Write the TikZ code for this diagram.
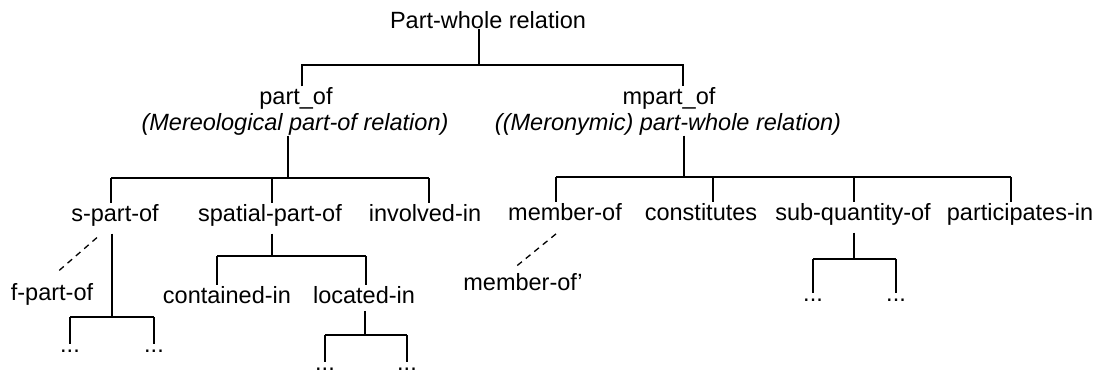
\documentclass[tikz,border=0pt]{standalone}
\usepackage{fontspec}
\setmainfont{Liberation Sans}
\usetikzlibrary{calc}

\begin{document}
\begin{tikzpicture}[x=0.5pt,y=-0.5pt,line width=0.65pt]
    \tikzstyle{rel}=[inner sep=0pt,anchor=base,font=\fontsize{11.75pt}{14pt}\selectfont]
    \tikzstyle{desc}=[rel,font=\fontsize{11.75pt}{14pt}\selectfont\itshape]
    \tikzstyle{stem}=[shorten <=3.5pt]
    \tikzstyle{leg}=[shorten >=2.3pt]
    \tikzstyle{alt}=[dash pattern=on 3pt off 2.5pt]

    \useasboundingbox (0,0) rectangle (1097,372);

    % relation names
    \node[rel] (pw) at (488,28) {Part-whole relation};
    \node[rel] (partof) at (296,104) {part\_of};
    \node[desc] (partofd) at (295,130) {(Mereological part-of relation)};
    \node[rel] (mpartof) at (669,104) {mpart\_of};
    \node[desc] (mpartofd) at (668,130) {((Meronymic) part-whole relation)};

    \node[rel] (spart) at (115,221) {s-part-of};
    \node[rel] (spatial) at (270,221) {spatial-part-of};
    \node[rel] (involved) at (425,221) {involved-in};
    \node[rel] (memberof) at (565,220) {member-of};
    \node[rel] (constit) at (701,220) {constitutes};
    \node[rel] (subq) at (853,220) {sub-quantity-of};
    \node[rel] (particip) at (1020,220) {participates-in};

    \node[rel] (fpart) at (52,300) {f-part-of};
    \node[rel] (contained) at (227,303) {contained-in};
    \node[rel] (located) at (364,303) {located-in};
    \node[rel] (memberofp) at (523,290) {member-of'};

    \node[rel] (sdots1) at (70,352) {...};
    \node[rel] (sdots2) at (154,352) {...};
    \node[rel] (ldots1) at (325,370) {...};
    \node[rel] (ldots2) at (407,370) {...};
    \node[rel] (qdots1) at (813,301) {...};
    \node[rel] (qdots2) at (896,301) {...};

    % junctions
    \coordinate (t0) at (479,65);
    \coordinate (t1) at (302,65);
    \coordinate (t2) at (683,65);
    \coordinate (l0) at (288,178);
    \coordinate (l1) at (111,178);
    \coordinate (l2) at (272,178);
    \coordinate (l3) at (429,178);
    \coordinate (r0) at (684,177);
    \coordinate (r1) at (556,177);
    \coordinate (r2) at (713,177);
    \coordinate (r3) at (854,177);
    \coordinate (r4) at (1011,177);
    \coordinate (p0) at (112,317);
    \coordinate (p1) at (70,317);
    \coordinate (p2) at (154,317);
    \coordinate (s0) at (272,256);
    \coordinate (s1) at (217,256);
    \coordinate (s2) at (366,256);
    \coordinate (c0) at (365,335);
    \coordinate (c1) at (325,335);
    \coordinate (c2) at (407,335);
    \coordinate (q0) at (854,259);
    \coordinate (q1) at (813,259);
    \coordinate (q2) at (896,259);

    % top level
    \draw (pw.south -| t0) -- (t0);
    \draw (partof.north -| t1) -- (t1) -- (t2) -- (mpartof.north -| t2);

    % part_of
    \draw (partofd.south -| l0) -- (l0);
    \draw (l1) -- (l3);
    \foreach \b/\n in {l1/spart,l2/spatial,l3/involved}
        \draw (\b) -- (\n.north -| \b);

    % mpart_of
    \draw (mpartofd.south -| r0) -- (r0);
    \draw (r1) -- (r4);
    \foreach \b/\n in {r1/memberof,r2/constit,r3/subq,r4/particip}
        \draw (\b) -- (\n.north -| \b);

    % s-part-of
    \draw[stem] (spart.south -| p0) -- (p0);
    \draw (p1) -- (p2);
    \foreach \b/\n in {p1/sdots1,p2/sdots2}
        \draw[leg] (\b) -- (\n.north -| \b);

    % spatial-part-of
    \draw[stem] (spatial.south -| s0) -- (s0);
    \draw (s1) -- (s2);
    \foreach \b/\n in {s1/contained,s2/located}
        \draw (\b) -- (\n.north -| \b);

    % located-in
    \draw[stem] (located.south -| c0) -- (c0);
    \draw (c1) -- (c2);
    \foreach \b/\n in {c1/ldots1,c2/ldots2}
        \draw[leg] (\b) -- (\n.north -| \b);

    % sub-quantity-of
    \draw[stem] (subq.south -| q0) -- (q0);
    \draw (q1) -- (q2);
    \foreach \b/\n in {q1/qdots1,q2/qdots2}
        \draw[leg] (\b) -- (\n.north -| \b);

    % variants
    \draw[alt] ($(spart.south)+(-18,11)$) -- ($(fpart.north)+(5,-10)$);
    \draw[alt] ($(memberof.south)+(-9,13)$) -- ($(memberofp.north)+(-8,-5)$);
\end{tikzpicture}
\end{document}
